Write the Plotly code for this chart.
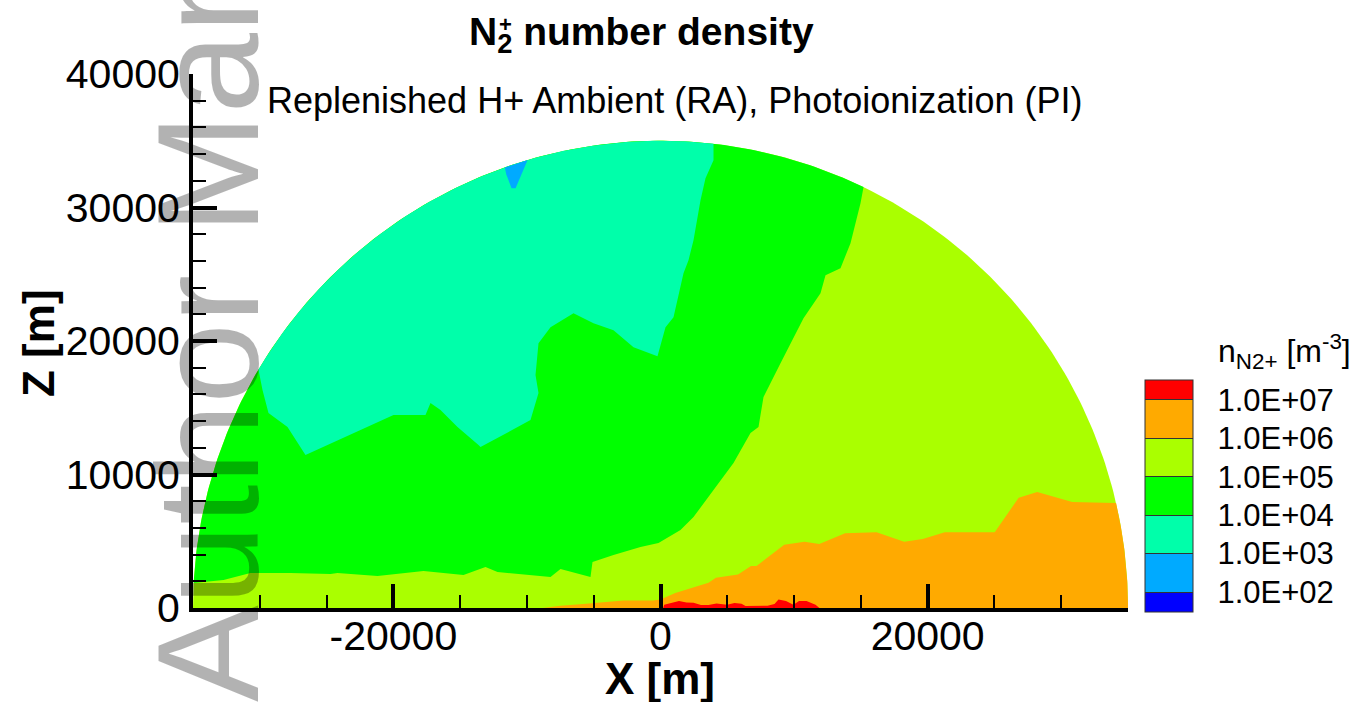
import numpy as np
import plotly.graph_objects as go

R = 35000.0  # radius of the semicircular domain [m]

# discrete colour levels (log10 of number density)
level_colors = ["#0000FF", "#00AAFF", "#00FFAA", "#00FF00", "#AAFF00", "#FFAA00", "#FF0000"]
level_bounds = [1.48, 2, 3, 4, 5, 6, 7, 7.52]
level_ticks = [2, 3, 4, 5, 6, 7]
level_labels = ["1.0E+02", "1.0E+03", "1.0E+04", "1.0E+05", "1.0E+06", "1.0E+07"]

x_tickvals = [-20000, 0, 20000]
x_ticktext = ["-20000", "0", "20000"]
y_tickvals = [0, 10000, 20000, 30000, 40000]
y_ticktext = ["0", "10000", "20000", "30000", "40000"]

# contour boundary 1e4 (teal / green), from the left arc to the top arc
tg_x = [-30100, -29797, -29348, -27925, -26578, -22984, -19989, -17594, -17219, -16471,
        -15198, -13626, -13476, -9733, -9134, -9358, -9134, -8235, -6513, -5016,
        -3519, -2021, -225, 374, 973, 1722, 2096, 2471, 2995, 3369, 3968, 3968]
tg_z = [17870, 16321, 14599, 13551, 11455, 13102, 14449, 14449, 15348, 14824,
        13551, 12203, 12054, 14075, 16096, 17444, 19840, 21038, 22086, 21337,
        20813, 19540, 18866, 21038, 21787, 25081, 26054, 27551, 30546, 32193, 33541, 34775]

# contour boundary 1e5 (green / yellow-green), from the top-right arc to the left arc
gy_x = [15198, 14973, 14225, 13476, 12353, 11979, 10706, 9733, 8984, 7711,
        7337, 6738, 5465, 2471, 1497, -150, -1497, -3519, -5091, -5241,
        -7487, -8235, -12203, -13102, -14749, -17743, -19241, -21187, -24182, -24706,
        -27701, -30696, -32717, -34664, -34950]
gy_z = [31519, 30321, 27326, 25455, 24931, 23583, 21711, 19840, 18342, 15797,
        13551, 13102, 10856, 6813, 5840, 4866, 4567, 3968, 3444, 2321,
        2920, 2321, 2695, 3070, 2471, 2770, 2620, 2396, 2620, 2545,
        2620, 2620, 2096, 1872, 1870]

# contour boundary 1e6 (yellow-green / orange), from the bottom to the right arc
oy_x = [-8800, -7487, -5802, -2770, -554, 0, 1108, 2209, 3594, 4148,
        5802, 6776, 7187, 9261, 10781, 11889, 13820, 16171, 18245, 19630,
        21285, 25020, 26817, 28202, 30823, 33166, 34100]
oy_z = [0, 172, 300, 554, 554, 629, 1130, 1460, 1887, 2268,
        2515, 3144, 3144, 4739, 4964, 4792, 5593, 5667, 4964, 5166,
        5667, 5667, 8265, 8692, 7936, 7883, 7890]

# contour 1e7 (red patches along the ground)
red_x = [200, 277, 1385, 1947, 2471, 3032, 3594, 4192, 4979, 5540, 6064, 6364,
         8011, 8535, 8834, 9396, 9950, 10369, 10931, 11605, 11900]
red_z = [0, 247, 524, 412, 397, 225, 225, 337, 247, 374, 314, 150,
         172, 300, 629, 524, 247, 524, 524, 247, 0]

# small 1e3 patch near the top of the dome
blue_x = [-11650, -9950, -10850, -11150, -11550]
blue_z = [33004, 33556, 31445, 31445, 32500]


def arc(a0, a1, n=240):
    t = np.linspace(a0, a1, n)
    return list(R * np.cos(t)), list(R * np.sin(t))


def ang(x, z):
    return float(np.arctan2(z, x))


def poly(x, z, color):
    return go.Scatter(x=x, y=z, mode="lines", fill="toself", fillcolor=color,
                      line=dict(width=0, color=color), hoverinfo="skip", showlegend=False)


def px(xp):
    return (xp - 193) / 935


def py(yp):
    return (608 - yp) / 534


fig = go.Figure()

# yellow-green: whole dome
ax, az = arc(0, np.pi)
fig.add_trace(poly(ax, az, level_colors[4]))

# green region
a1x, a1z = arc(ang(gy_x[-1], gy_z[-1]), ang(gy_x[0], gy_z[0]))
fig.add_trace(poly(gy_x + a1x, gy_z + a1z, level_colors[3]))

# teal region
a2x, a2z = arc(ang(tg_x[-1], tg_z[-1]), ang(tg_x[0], tg_z[0]))
fig.add_trace(poly(tg_x + a2x, tg_z + a2z, level_colors[2]))

# sky-blue patch
fig.add_trace(poly(blue_x, blue_z, level_colors[1]))

# orange region
a3x, a3z = arc(ang(oy_x[-1], oy_z[-1]), 0.0)
fig.add_trace(poly(oy_x + a3x, oy_z + a3z, level_colors[5]))

# red patches
fig.add_trace(poly(red_x, red_z, level_colors[6]))

# colour bar (discrete)
cmin, cmax = level_bounds[0], level_bounds[-1]
cscale = []
for i, c in enumerate(level_colors):
    lo = (level_bounds[i] - cmin) / (cmax - cmin)
    hi = (level_bounds[i + 1] - cmin) / (cmax - cmin)
    cscale += [[lo, c], [hi, c]]

W, H = 1360, 702
fig.add_trace(go.Scatter(
    x=[0], y=[-5000], mode="markers", hoverinfo="skip", showlegend=False,
    marker=dict(size=1, color=[4], colorscale=cscale, cmin=cmin, cmax=cmax, showscale=True,
                colorbar=dict(
                    x=px(1145), xanchor="left", xpad=0,
                    y=py(612), yanchor="bottom", ypad=0,
                    len=232 / 534, lenmode="fraction", thickness=48, thicknessmode="pixels",
                    tickmode="array", tickvals=level_ticks,
                    ticktext=["\u00a0\u00a0" + t for t in level_labels],
                    ticks="inside", ticklen=48, tickwidth=1, tickcolor="#333333",
                    outlinewidth=1, outlinecolor="#333333",
                    tickfont=dict(family="Liberation Sans", size=31, color="black"),
                )),
))

font = "Liberation Sans"
fig.update_layout(
    width=W, height=H,
    margin=dict(l=193, r=232, t=74, b=94, pad=0, autoexpand=False),
    paper_bgcolor="white", plot_bgcolor="white",
    font=dict(family=font, color="black"),
    xaxis=dict(range=[-R, R], tickmode="array", tickvals=x_tickvals, ticktext=x_ticktext,
               ticks="inside", ticklen=24, tickwidth=4, tickcolor="black",
               showline=True, linewidth=4, linecolor="black", showgrid=False, zeroline=False,
               tickfont=dict(family=font, size=41, color="black"), ticklabelstandoff=-11,
               minor=dict(tickmode="linear", tick0=0, dtick=5000, ticks="inside", ticklen=13,
                          tickwidth=2, tickcolor="black", showgrid=False)),
    yaxis=dict(range=[0, 40000], tickmode="array", tickvals=y_tickvals, ticktext=y_ticktext,
               ticks="inside", ticklen=24, tickwidth=4, tickcolor="black",
               showline=True, linewidth=4, linecolor="black", showgrid=False, zeroline=False,
               tickfont=dict(family=font, size=41, color="black"), ticklabelstandoff=1,
               minor=dict(tickmode="linear", tick0=0, dtick=2000, ticks="inside", ticklen=13,
                          tickwidth=2, tickcolor="black", showgrid=False)),
)

ann = [
    dict(text="<b>N<sub>2</sub> number density</b>", x=px(641), y=py(35), font=dict(size=39)),
    dict(text="<b>+</b>", x=px(505), y=py(24), font=dict(size=22)),
    dict(text="Replenished H+ Ambient (RA), Photoionization (PI)", x=px(674),
         y=py(100), font=dict(size=36)),
    dict(text="<b>X [m]</b>", x=px(660), y=py(678), font=dict(size=44)),
    dict(text="<b>Z [m]</b>", x=px(38), y=py(343), font=dict(size=44), textangle=-90),
    dict(text="n<sub>N2+</sub> [m<sup>-3</sup>]", x=px(1216), y=py(352),
         font=dict(size=32), xanchor="left"),
    dict(text="Author Manuscript", x=px(208), y=py(114),
         font=dict(size=145, color="rgba(0,0,0,0.3)"), textangle=-90),
]
for a in ann:
    a.setdefault("xanchor", "center")
    a.update(xref="paper", yref="paper", showarrow=False, yanchor="middle")
    a["font"].setdefault("family", font)
    a["font"].setdefault("color", "black")
fig.update_layout(annotations=ann)

fig.write_html("out.html")
